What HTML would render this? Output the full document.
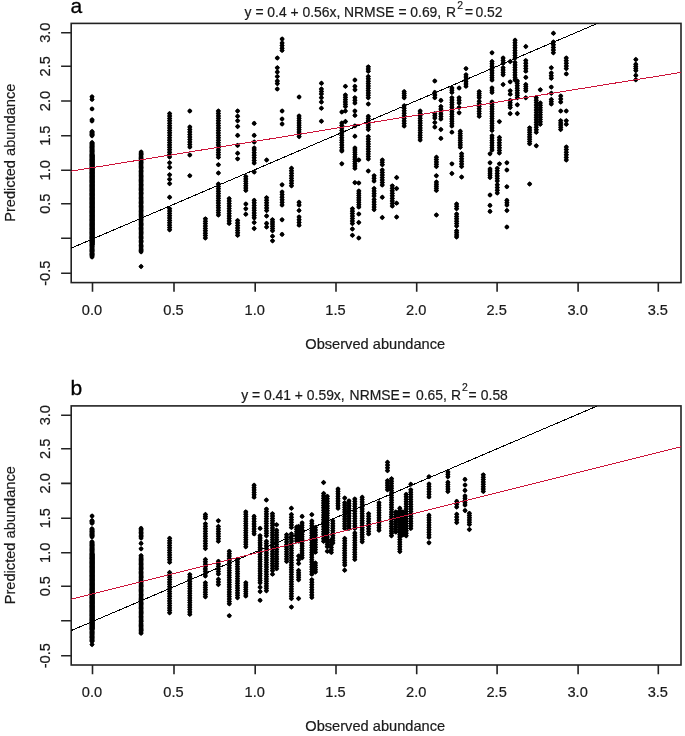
<!DOCTYPE html>
<html><head><meta charset="utf-8"><title>Figure</title>
<style>
html,body{margin:0;padding:0;background:#fff}
svg{display:block}
.t{font-family:"Liberation Sans",sans-serif;font-size:14.2px;fill:#1a1a1a;stroke:#1a1a1a;stroke-width:0.2px}
.h{font-family:"Liberation Sans",sans-serif;font-size:13.9px;fill:#1a1a1a;stroke:#1a1a1a;stroke-width:0.2px}
.p{font-family:"Liberation Sans",sans-serif;font-size:21px;fill:#000;stroke:#000;stroke-width:0.3px}
</style></head><body>
<svg width="685" height="736" viewBox="0 0 685 736">
<rect width="685" height="736" fill="#fff"/>
<rect x="71.2" y="23.4" width="609.8" height="259.2" fill="none" stroke="#222" stroke-width="1.6"/>
<path d="M61.1 273.2H71.2M61.1 238.3H71.2M61.1 203.7H71.2M61.1 170.3H71.2M61.1 135.7H71.2M61.1 101.0H71.2M61.1 66.3H71.2M61.1 32.7H71.2M92.5 282.6V291.8M174.0 282.6V291.8M255.2 282.6V291.8M336.0 282.6V291.8M416.7 282.6V291.8M497.1 282.6V291.8M578.1 282.6V291.8M658.3 282.6V291.8" stroke="#222" stroke-width="1.6" fill="none"/>
<clipPath id="ca"><rect x="71.2" y="23.4" width="609.8" height="259.2"/></clipPath>
<g clip-path="url(#ca)">
<path d="M133.5 3.4h0M135.4 5.2h0M142.1 11.9h0M149.8 19.6h0M150.6 20.5h0M158.1 27.9h0M159.1 28.9h0M160.1 29.9h0M161.1 30.9h0M165.9 35.7h0M166.8 36.6h0M167.7 37.5h0M168.6 38.4h0M169.5 39.4h0M170.5 40.3h0M171.4 41.2h0M172.3 42.1h0M173.2 43.0h0M174.1 44.0h0M175.1 44.9h0M176.0 45.8h0M176.9 46.7h0M177.8 47.6h0M178.7 48.6h0M179.7 49.5h0M180.6 50.4h0M181.5 51.3h0M182.4 52.2h0M183.3 53.2h0M184.3 54.1h0M185.2 55.0h0M186.1 55.9h0M187.0 56.8h0M187.9 57.8h0M188.9 58.7h0M189.8 59.6h0M190.7 60.5h0M191.6 61.4h0M192.5 62.4h0M193.5 63.3h0M194.4 64.2h0M195.3 65.1h0M196.2 66.0h0M197.1 67.0h0M198.1 67.9h0M199.0 68.8h0M199.9 69.7h0M200.8 70.6h0M201.7 71.6h0M202.7 72.5h0M203.6 73.4h0M204.5 74.3h0M205.4 75.2h0M206.3 76.2h0M207.3 77.1h0M208.2 78.0h0M209.1 78.9h0M210.0 79.8h0M210.9 80.8h0M211.9 81.7h0M212.8 82.6h0M213.7 83.5h0M214.6 84.4h0M215.5 85.4h0M216.5 86.3h0M217.4 87.2h0M218.3 88.1h0M219.2 89.0h0M220.1 90.0h0M221.1 90.9h0M222.0 91.8h0M222.9 92.7h0M223.8 93.6h0M224.7 94.6h0M225.7 95.5h0M226.6 96.4h0M227.5 97.3h0M228.4 98.2h0M229.3 99.2h0M230.3 100.1h0M231.2 101.0h0M232.1 101.9h0M233.0 102.8h0M233.9 103.8h0M234.9 104.7h0M235.8 105.6h0M236.7 106.5h0M237.6 107.4h0M238.5 108.4h0M239.5 109.3h0M240.4 110.2h0M241.3 111.1h0M242.2 112.0h0M243.1 113.0h0M244.1 113.9h0M245.0 114.8h0M245.9 115.7h0M246.8 116.6h0M207.3 7.7h0M208.2 8.6h0M209.1 9.5h0M210.0 10.5h0M210.9 11.4h0M211.8 12.3h0M212.8 13.2h0M213.7 14.1h0M214.6 15.0h0M215.5 16.0h0M216.4 16.9h0M217.3 17.8h0M218.3 18.7h0M219.2 19.6h0M220.1 20.5h0M221.0 21.5h0M221.9 22.4h0M222.8 23.3h0M223.7 24.2h0M224.7 25.1h0M225.6 26.0h0M226.5 27.0h0M227.4 27.9h0M228.3 28.8h0M229.2 29.7h0M230.2 30.6h0M231.1 31.5h0M232.0 32.5h0M232.9 33.4h0M233.8 34.3h0M234.7 35.2h0M235.7 36.1h0M236.6 37.0h0M237.5 38.0h0M238.4 38.9h0M239.3 39.8h0M240.2 40.7h0M241.2 41.6h0M242.1 42.5h0M243.0 43.5h0M243.9 44.4h0M244.8 45.3h0M245.7 46.2h0M246.7 47.1h0M247.6 48.0h0M248.5 48.9h0M249.4 49.9h0M250.3 50.8h0M251.2 51.7h0M252.2 52.6h0M253.1 53.5h0M254.0 54.4h0M254.9 55.4h0M255.8 56.3h0M256.7 57.2h0M257.7 58.1h0M258.6 59.0h0M259.5 59.9h0M260.4 60.9h0M261.3 61.8h0M262.2 62.7h0M263.2 63.6h0M264.1 64.5h0M265.0 65.4h0M265.9 66.4h0M266.8 67.3h0M267.7 68.2h0M268.7 69.1h0M269.6 70.0h0M270.5 70.9h0M271.4 71.9h0M272.3 72.8h0M273.2 73.7h0M274.2 74.6h0M275.1 75.5h0M276.0 76.4h0M276.9 77.4h0M277.8 78.3h0M288.2 88.7h0M200.3 -39.6h0M202.0 -37.9h0M203.7 -36.2h0M205.4 -34.5h0M207.1 -32.8h0M208.8 -31.1h0M210.5 -29.4h0M212.2 -27.7h0M213.9 -26.0h0M215.6 -24.3h0M217.3 -22.5h0M219.0 -20.8h0M220.7 -19.1h0M222.4 -17.4h0M224.1 -15.7h0M225.8 -14.0h0M227.5 -12.3h0M229.2 -10.6h0M230.9 -8.9h0M235.0 -4.8h0M238.3 -1.6h0M243.5 3.7h0M246.7 6.9h0M249.8 9.9h0M259.4 19.6h0M267.5 27.6h0M269.2 29.3h0M270.8 31.0h0M272.5 32.6h0M274.1 34.3h0M275.8 35.9h0M277.4 37.6h0M279.1 39.3h0M280.8 40.9h0M282.4 42.6h0M212.7 -55.7h0M224.0 -44.4h0M225.8 -42.6h0M227.5 -40.9h0M229.3 -39.1h0M231.1 -37.3h0M232.9 -35.6h0M234.6 -33.8h0M236.4 -32.0h0M238.2 -30.3h0M243.8 -24.6h0M258.4 -10.0h0M300.0 9.5h0M301.7 11.2h0M303.3 12.9h0M305.0 14.6h0M306.7 16.3h0M308.4 18.0h0M310.1 19.7h0M311.8 21.4h0M313.5 23.1h0M232.9 -75.9h0M234.6 -74.2h0M236.4 -72.5h0M238.1 -70.8h0M239.8 -69.1h0M241.5 -67.3h0M243.3 -65.6h0M245.0 -63.9h0M246.7 -62.2h0M248.4 -60.4h0M250.2 -58.7h0M251.9 -57.0h0M253.6 -55.3h0M255.3 -53.5h0M257.0 -51.8h0M258.8 -50.1h0M260.5 -48.4h0M262.2 -46.7h0M263.9 -44.9h0M265.7 -43.2h0M270.9 -38.0h0M276.8 -32.1h0M284.5 -24.3h0M286.2 -22.6h0M287.9 -21.0h0M289.6 -19.3h0M291.3 -17.6h0M293.0 -15.9h0M294.7 -14.2h0M296.3 -12.5h0M298.0 -10.8h0M299.7 -9.1h0M301.4 -7.5h0M303.1 -5.8h0M304.8 -4.1h0M306.5 -2.4h0M302.5 -21.6h0M304.3 -19.9h0M306.0 -18.1h0M307.8 -16.4h0M309.5 -14.6h0M311.3 -12.9h0M313.0 -11.1h0M314.8 -9.4h0M316.5 -7.6h0M318.3 -5.9h0M320.0 -4.1h0M246.5 -89.5h0M250.2 -85.8h0M253.4 -82.7h0M257.5 -78.6h0M263.8 -72.3h0M270.8 -65.2h0M276.4 -59.6h0M280.3 -55.7h0M324.0 -12.0h0M325.7 -10.3h0M327.5 -8.6h0M329.2 -6.8h0M330.9 -5.1h0M332.7 -3.4h0M334.4 -1.6h0M298.7 -48.9h0M300.3 -47.3h0M301.9 -45.7h0M303.6 -44.1h0M305.2 -42.4h0M306.8 -40.8h0M308.4 -39.2h0M318.1 -29.6h0M321.4 -26.2h0M325.3 -22.3h0M267.0 -92.5h0M275.5 -84.0h0M280.2 -79.3h0M284.4 -75.1h0M285.8 -73.7h0M287.7 -71.8h0M289.5 -70.0h0M291.3 -68.2h0M293.2 -66.3h0M295.0 -64.5h0M301.4 -58.1h0M321.5 -38.0h0M323.2 -36.3h0M325.0 -34.5h0M326.8 -32.7h0M328.5 -31.0h0M330.3 -29.2h0M332.1 -27.4h0M333.8 -25.7h0M337.1 -22.4h0M341.3 -18.2h0M301.7 -75.4h0M328.3 -48.7h0M330.1 -46.9h0M331.9 -45.1h0M333.7 -43.3h0M335.6 -41.5h0M337.4 -39.7h0M341.2 -35.8h0M346.5 -30.5h0M349.0 -28.0h0M348.0 -37.3h0M349.6 -35.8h0M351.1 -34.2h0M352.7 -32.7h0M354.3 -31.1h0M355.8 -29.6h0M359.7 -25.7h0M363.0 -22.4h0M237.1 -155.1h0M244.0 -148.2h0M247.0 -145.2h0M250.2 -142.0h0M253.4 -138.8h0M255.2 -137.0h0M259.0 -133.1h0M227.1 -171.9h0M229.9 -169.1h0M231.7 -167.2h0M233.6 -165.3h0M235.1 -163.8h0M278.0 -121.0h0M283.6 -115.3h0M287.2 -111.8h0M330.1 -68.8h0M335.2 -63.7h0M337.1 -61.9h0M338.9 -60.0h0M340.8 -58.2h0M342.6 -56.4h0M344.4 -54.5h0M354.8 -44.1h0M365.2 -33.7h0M325.1 -87.1h0M326.9 -85.3h0M328.7 -83.6h0M330.4 -81.8h0M332.2 -80.0h0M334.0 -78.3h0M335.7 -76.5h0M337.5 -74.7h0M280.1 -142.9h0M293.5 -129.5h0M295.1 -127.9h0M296.8 -126.2h0M298.4 -124.6h0M300.0 -123.0h0M301.6 -121.4h0M303.2 -119.8h0M304.8 -118.1h0M306.5 -116.5h0M308.1 -114.9h0M354.5 -68.4h0M356.5 -66.5h0M360.3 -62.6h0M364.9 -58.1h0M366.9 -56.1h0M368.8 -54.2h0M370.7 -52.3h0M286.2 -168.4h0M290.2 -164.3h0M292.0 -162.6h0M293.7 -160.8h0M296.3 -158.2h0M299.4 -155.1h0M303.8 -150.7h0M313.0 -141.6h0M320.9 -162.5h0M328.7 -154.7h0M330.4 -153.0h0M332.1 -151.2h0M333.9 -149.5h0M335.6 -147.8h0M337.3 -146.0h0M339.1 -144.3h0M340.8 -142.6h0M342.5 -140.8h0M344.3 -139.1h0M346.0 -137.4h0M347.8 -135.6h0M348.5 -134.9h0M357.5 -125.9h0M305.3 -183.2h0M311.4 -177.1h0M313.1 -175.4h0M314.7 -173.8h0M316.3 -172.1h0M318.0 -170.5h0M319.6 -168.9h0M322.7 -165.7h0M330.2 -158.3h0M396.8 -101.6h0M398.5 -99.9h0M400.2 -98.1h0M402.0 -96.4h0M403.7 -94.7h0M405.4 -92.9h0M407.2 -91.2h0M411.1 -87.3h0M415.6 -82.8h0M307.5 -194.4h0M312.0 -189.9h0M314.5 -187.5h0M320.0 -181.9h0M321.9 -180.0h0M323.8 -178.1h0M329.4 -172.5h0M332.6 -169.4h0M340.0 -161.9h0M347.3 -154.6h0M355.6 -146.3h0M357.0 -144.9h0M358.6 -143.3h0M360.3 -141.7h0M361.9 -140.0h0M363.5 -138.4h0M365.1 -136.8h0M366.7 -135.2h0M368.3 -133.6h0M370.0 -131.9h0M380.1 -121.8h0M366.8 -140.6h0M383.1 -124.3h0M388.8 -118.7h0M390.4 -117.0h0M392.0 -115.4h0M393.6 -113.8h0M395.2 -112.2h0M396.8 -110.6h0M398.5 -109.0h0M400.1 -107.3h0M405.0 -102.4h0M411.0 -96.4h0M422.0 -85.4h0M307.7 -213.2h0M309.2 -211.6h0M310.8 -210.1h0M314.5 -206.3h0M316.2 -204.7h0M317.9 -203.0h0M319.5 -201.3h0M321.2 -199.7h0M322.8 -198.0h0M324.5 -196.3h0M326.2 -194.7h0M327.8 -193.0h0M329.5 -191.3h0M334.0 -186.9h0M342.7 -178.2h0M344.2 -176.6h0M345.8 -175.1h0M347.3 -173.5h0M348.9 -172.0h0M350.4 -170.4h0M352.0 -168.9h0M357.0 -163.8h0M358.8 -162.1h0M360.5 -160.3h0M362.3 -158.6h0M364.1 -156.8h0M365.8 -155.0h0M367.6 -153.3h0M369.3 -151.5h0M371.1 -149.8h0M372.9 -148.0h0M381.3 -139.5h0M388.8 -140.3h0M390.6 -138.4h0M392.5 -136.5h0M397.8 -131.2h0M399.6 -129.5h0M401.4 -127.7h0M403.1 -125.9h0M405.6 -123.5h0M407.4 -121.7h0M409.2 -119.9h0M411.0 -118.1h0M412.7 -116.3h0M383.5 -157.2h0M385.1 -155.5h0M386.8 -153.9h0M390.5 -150.1h0M392.3 -148.4h0M394.1 -146.6h0M395.8 -144.8h0M397.6 -143.0h0M399.4 -141.3h0M401.1 -139.5h0M409.8 -130.8h0M424.1 -116.5h0M408.8 -146.0h0M410.6 -144.2h0M412.3 -142.4h0M414.1 -140.7h0M415.9 -138.9h0M417.7 -137.1h0M419.5 -135.3h0M421.3 -133.5h0M423.1 -131.7h0M406.0 -154.9h0M413.7 -147.1h0M424.1 -136.8h0M433.9 -127.0h0M350.6 -221.0h0M352.0 -219.6h0M353.5 -218.2h0M354.9 -216.7h0M360.6 -211.1h0M362.3 -209.3h0M364.1 -207.5h0M365.9 -205.7h0M367.7 -203.9h0M369.5 -202.1h0M371.3 -200.3h0M373.1 -198.5h0M374.9 -196.7h0M375.6 -218.6h0M377.3 -216.9h0M379.0 -215.2h0M380.7 -213.5h0M382.5 -211.8h0M384.2 -210.1h0M385.9 -208.4h0M387.6 -206.7h0M389.3 -205.0h0M391.0 -203.3h0M392.7 -201.5h0M394.4 -199.8h0M396.1 -198.1h0M364.7 -250.2h0M372.8 -242.1h0M374.7 -240.2h0M376.5 -238.4h0M387.8 -227.1h0M389.3 -225.6h0M390.9 -224.0h0M394.1 -220.8h0M397.3 -217.6h0M419.8 -197.4h0M421.4 -195.7h0M423.1 -194.1h0M424.7 -192.5h0M426.3 -190.8h0M432.8 -184.3h0M437.3 -179.9h0M438.8 -178.4h0M440.2 -176.9h0M441.7 -175.4h0M443.2 -173.9h0M460.6 -156.6h0M382.8 -240.8h0M387.1 -236.4h0M388.9 -234.6h0M390.6 -232.9h0M392.4 -231.1h0M394.2 -229.4h0M395.9 -227.6h0M403.3 -220.2h0M409.6 -213.9h0M381.8 -257.3h0M383.3 -255.8h0M384.9 -254.2h0M388.6 -250.5h0M390.3 -248.8h0M392.0 -247.1h0M393.6 -245.5h0M395.3 -243.8h0M397.0 -242.1h0M398.6 -240.5h0M400.3 -238.8h0M402.0 -237.1h0M403.6 -235.4h0M405.3 -233.8h0M407.0 -232.1h0M408.6 -230.4h0M413.0 -226.1h0M435.4 -203.7h0M442.2 -196.9h0M467.1 -178.6h0M468.8 -177.0h0M470.4 -175.3h0M474.2 -171.5h0M475.9 -169.8h0M477.6 -168.1h0M479.3 -166.5h0M481.0 -164.8h0M482.7 -163.1h0M486.0 -159.7h0M487.5 -158.3h0M489.0 -156.8h0M490.4 -155.3h0M386.9 -262.4h0M393.7 -255.5h0M395.6 -253.7h0M397.5 -251.8h0M400.6 -248.6h0M404.4 -244.9h0M418.3 -232.6h0M419.9 -231.0h0M421.5 -229.4h0M423.1 -227.8h0M424.7 -226.2h0M426.4 -224.6h0M428.0 -223.0h0M429.6 -221.4h0M435.1 -217.7h0M436.9 -215.9h0M438.7 -214.1h0M440.5 -212.3h0M442.3 -210.5h0M444.1 -208.7h0M451.6 -201.2h0M378.0 -281.0h0M382.4 -276.6h0M384.0 -275.0h0M385.7 -273.4h0M387.3 -271.7h0M388.9 -270.1h0M390.5 -268.5h0M403.6 -274.1h0M405.1 -272.6h0M406.5 -271.2h0M407.9 -269.8h0M410.5 -267.2h0M412.2 -265.4h0M414.0 -263.7h0M415.8 -261.9h0M417.5 -260.1h0M419.3 -258.4h0M421.1 -256.6h0M455.2 -237.8h0M461.6 -231.4h0M466.0 -227.0h0M467.5 -225.5h0M469.0 -224.0h0M470.5 -222.5h0M472.0 -221.0h0M484.4 -208.6h0M491.7 -201.2h0M496.0 -197.0h0M385.2 -310.6h0M391.4 -304.4h0M393.0 -302.8h0M394.7 -301.1h0M396.3 -299.5h0M397.9 -297.9h0M399.6 -296.2h0M401.2 -294.6h0M402.8 -293.0h0M404.5 -291.3h0M410.1 -285.7h0M411.7 -284.1h0M413.2 -282.6h0M420.0 -275.8h0M421.7 -274.1h0M423.4 -272.4h0M425.0 -270.8h0M426.7 -269.1h0M428.4 -267.4h0M430.1 -265.7h0M431.7 -264.1h0M433.4 -262.4h0M435.1 -260.7h0M436.8 -259.0h0M438.4 -257.4h0M440.1 -255.7h0M443.9 -251.9h0M445.5 -250.3h0M447.2 -248.6h0M448.9 -246.9h0M450.6 -245.2h0M452.3 -243.5h0M454.0 -241.8h0M470.7 -232.6h0M472.4 -230.8h0M474.2 -229.0h0M476.0 -227.2h0M477.8 -225.5h0M479.6 -223.7h0M482.3 -221.0h0M484.3 -219.0h0M486.2 -217.1h0M488.1 -215.2h0M439.1 -267.1h0M450.4 -255.9h0M452.2 -254.1h0M454.0 -252.2h0M455.8 -250.4h0M457.7 -248.6h0M459.5 -246.8h0M461.3 -244.9h0M469.0 -237.3h0M396.8 -314.7h0M398.6 -312.9h0M400.5 -311.0h0M403.6 -307.9h0M405.3 -306.2h0M407.0 -304.5h0M408.6 -302.9h0M415.5 -296.0h0M473.5 -243.3h0M478.6 -238.2h0M490.4 -226.4h0M500.1 -216.7h0M501.8 -215.1h0M503.4 -213.5h0M507.3 -209.6h0M518.9 -197.9h0M404.3 -317.3h0M418.6 -302.9h0M424.9 -296.6h0M427.4 -294.2h0M431.8 -289.8h0M433.4 -288.1h0M435.1 -286.4h0M436.8 -284.8h0M441.1 -280.4h0M392.7 -335.7h0M394.4 -333.9h0M396.2 -332.1h0M398.0 -330.3h0M399.8 -328.5h0M401.6 -326.7h0M403.4 -324.9h0M405.2 -323.1h0M408.3 -320.0h0M410.1 -318.3h0M411.8 -316.5h0M413.6 -314.7h0M415.4 -312.9h0M417.2 -311.1h0M419.0 -309.4h0M420.7 -307.6h0M423.1 -308.5h0M424.7 -306.8h0M426.4 -305.1h0M428.1 -303.4h0M429.8 -301.8h0M431.5 -300.1h0M433.2 -298.4h0M434.9 -296.7h0M439.9 -291.7h0M446.1 -285.5h0M404.7 -338.9h0M414.6 -328.9h0M416.5 -327.1h0M418.4 -325.2h0M420.3 -323.3h0M422.1 -321.5h0M426.5 -317.1h0M431.5 -312.0h0M433.0 -310.6h0M434.5 -309.1h0M435.9 -307.7h0M440.9 -302.7h0M464.9 -284.1h0M466.5 -282.5h0M468.1 -280.9h0M469.7 -279.3h0M471.3 -277.7h0M472.9 -276.1h0M474.5 -274.5h0M476.1 -272.9h0M504.6 -244.4h0M448.3 -310.1h0M450.0 -308.4h0M451.8 -306.7h0M453.5 -304.9h0M455.3 -303.2h0M457.0 -301.4h0M458.8 -299.7h0M460.5 -297.9h0M462.2 -296.2h0M464.0 -294.5h0M465.7 -292.7h0M467.5 -291.0h0M469.2 -289.2h0M471.0 -287.5h0M472.7 -285.7h0M482.3 -276.1h0M445.5 -318.6h0M454.9 -309.2h0M456.5 -307.6h0M458.2 -305.9h0M459.9 -304.2h0M461.5 -302.6h0M463.2 -300.9h0M464.9 -299.2h0M466.5 -297.6h0M468.2 -295.9h0M469.9 -294.2h0M437.7 -342.0h0M441.4 -338.2h0M443.3 -336.3h0M445.2 -334.5h0M451.4 -328.2h0M455.8 -323.9h0M460.2 -319.5h0M461.8 -317.9h0M463.4 -316.3h0M414.9 -367.8h0M421.0 -361.6h0M422.9 -359.7h0M424.8 -357.8h0M426.7 -355.9h0M428.6 -354.0h0M464.4 -328.6h0M466.5 -326.5h0M468.6 -324.3h0M475.0 -318.0h0M481.8 -311.1h0M483.4 -309.6h0M484.9 -308.0h0M486.5 -306.5h0M488.0 -304.9h0M441.4 -359.4h0M443.3 -357.5h0M445.2 -355.7h0M447.1 -353.8h0M448.9 -351.9h0M452.7 -348.2h0M478.9 -321.9h0M485.8 -315.1h0M488.3 -312.6h0M504.4 -296.5h0M506.2 -294.7h0M508.1 -292.8h0M509.9 -291.0h0M511.7 -289.1h0M513.6 -287.3h0M491.7 -407.5h0M495.0 -404.1h0M496.5 -402.6h0M498.0 -401.1h0M499.5 -399.7h0M502.9 -396.3h0M506.0 -393.2h0" stroke="#000" stroke-width="3.8" stroke-linecap="square" fill="none" transform="rotate(45)"/>
<path d="M92.0 96.8h0M92.0 99.4h0M92.0 108.9h0M92.0 119.8h0M92.0 121.0h0M92.0 131.5h0M92.0 132.9h0M92.0 134.4h0M92.0 135.8h0M92.0 142.5h0M92.0 143.8h0M92.0 145.1h0M92.0 146.4h0M92.0 147.7h0M92.0 149.0h0M92.0 150.3h0M92.0 151.6h0M92.0 152.9h0M92.0 154.2h0M92.0 155.5h0M92.0 156.8h0M92.0 158.1h0M92.0 159.4h0M92.0 160.7h0M92.0 162.0h0M92.0 163.3h0M92.0 164.6h0M92.0 165.9h0M92.0 167.2h0M92.0 168.5h0M92.0 169.8h0M92.0 171.1h0M92.0 172.4h0M92.0 173.7h0M92.0 175.0h0M92.0 176.3h0M92.0 177.6h0M92.0 178.9h0M92.0 180.2h0M92.0 181.5h0M92.0 182.8h0M92.0 184.1h0M92.0 185.4h0M92.0 186.7h0M92.0 188.0h0M92.0 189.3h0M92.0 190.6h0M92.0 191.9h0M92.0 193.2h0M92.0 194.5h0M92.0 195.8h0M92.0 197.1h0M92.0 198.4h0M92.0 199.8h0M92.0 201.1h0M92.0 202.4h0M92.0 203.7h0M92.0 205.0h0M92.0 206.3h0M92.0 207.6h0M92.0 208.9h0M92.0 210.2h0M92.0 211.5h0M92.0 212.8h0M92.0 214.1h0M92.0 215.4h0M92.0 216.7h0M92.0 218.0h0M92.0 219.3h0M92.0 220.6h0M92.0 221.9h0M92.0 223.2h0M92.0 224.5h0M92.0 225.8h0M92.0 227.1h0M92.0 228.4h0M92.0 229.7h0M92.0 231.0h0M92.0 232.3h0M92.0 233.6h0M92.0 234.9h0M92.0 236.2h0M92.0 237.5h0M92.0 238.8h0M92.0 240.1h0M92.0 241.4h0M92.0 242.7h0M92.0 244.0h0M92.0 245.3h0M92.0 246.6h0M92.0 247.9h0M92.0 249.2h0M92.0 250.5h0M92.0 251.8h0M92.0 253.1h0M92.0 254.4h0M92.0 255.7h0M92.0 257.0h0M141.1 152.0h0M141.1 153.3h0M141.1 154.6h0M141.1 155.9h0M141.1 157.2h0M141.1 158.5h0M141.1 159.8h0M141.1 161.1h0M141.1 162.4h0M141.1 163.7h0M141.1 165.0h0M141.1 166.3h0M141.1 167.6h0M141.1 168.8h0M141.1 170.1h0M141.1 171.4h0M141.1 172.7h0M141.1 174.0h0M141.1 175.3h0M141.1 176.6h0M141.1 177.9h0M141.1 179.2h0M141.1 180.5h0M141.1 181.8h0M141.1 183.1h0M141.1 184.4h0M141.1 185.7h0M141.1 187.0h0M141.1 188.3h0M141.1 189.6h0M141.1 190.9h0M141.1 192.2h0M141.1 193.5h0M141.1 194.8h0M141.1 196.1h0M141.1 197.4h0M141.1 198.7h0M141.1 200.0h0M141.1 201.3h0M141.1 202.5h0M141.1 203.8h0M141.1 205.1h0M141.1 206.4h0M141.1 207.7h0M141.1 209.0h0M141.1 210.3h0M141.1 211.6h0M141.1 212.9h0M141.1 214.2h0M141.1 215.5h0M141.1 216.8h0M141.1 218.1h0M141.1 219.4h0M141.1 220.7h0M141.1 222.0h0M141.1 223.3h0M141.1 224.6h0M141.1 225.9h0M141.1 227.2h0M141.1 228.5h0M141.1 229.8h0M141.1 231.1h0M141.1 232.4h0M141.1 233.7h0M141.1 235.0h0M141.1 236.2h0M141.1 237.5h0M141.1 238.8h0M141.1 240.1h0M141.1 241.4h0M141.1 242.7h0M141.1 244.0h0M141.1 245.3h0M141.1 246.6h0M141.1 247.9h0M141.1 249.2h0M141.1 250.5h0M141.1 251.8h0M141.1 266.5h0M169.6 113.6h0M169.6 116.0h0M169.6 118.4h0M169.6 120.8h0M169.6 123.2h0M169.6 125.7h0M169.6 128.1h0M169.6 130.5h0M169.6 132.9h0M169.6 135.3h0M169.6 137.7h0M169.6 140.1h0M169.6 142.5h0M169.6 144.9h0M169.6 147.4h0M169.6 149.8h0M169.6 152.2h0M169.6 154.6h0M169.6 157.0h0M169.6 162.8h0M169.6 167.4h0M169.6 174.8h0M169.6 179.3h0M169.6 183.6h0M169.6 197.3h0M169.6 208.7h0M169.6 211.0h0M169.6 213.4h0M169.6 215.7h0M169.6 218.1h0M169.6 220.4h0M169.6 222.8h0M169.6 225.1h0M169.6 227.5h0M169.6 229.8h0M189.8 111.0h0M189.8 127.0h0M189.8 129.5h0M189.8 132.0h0M189.8 134.5h0M189.8 137.0h0M189.8 139.5h0M189.8 142.0h0M189.8 144.5h0M189.8 147.0h0M189.8 155.0h0M189.8 175.7h0M205.4 218.8h0M205.4 221.2h0M205.4 223.6h0M205.4 226.0h0M205.4 228.4h0M205.4 230.8h0M205.4 233.2h0M205.4 235.6h0M205.4 238.0h0M218.4 111.0h0M218.4 113.4h0M218.4 115.9h0M218.4 118.3h0M218.4 120.7h0M218.4 123.2h0M218.4 125.6h0M218.4 128.1h0M218.4 130.5h0M218.4 132.9h0M218.4 135.4h0M218.4 137.8h0M218.4 140.2h0M218.4 142.7h0M218.4 145.1h0M218.4 147.6h0M218.4 150.0h0M218.4 152.4h0M218.4 154.9h0M218.4 157.3h0M218.4 164.7h0M218.4 173.0h0M218.4 184.0h0M218.4 186.4h0M218.4 188.8h0M218.4 191.2h0M218.4 193.5h0M218.4 195.9h0M218.4 198.3h0M218.4 200.7h0M218.4 203.1h0M218.4 205.5h0M218.4 207.8h0M218.4 210.2h0M218.4 212.6h0M218.4 215.0h0M229.2 198.6h0M229.2 201.1h0M229.2 203.6h0M229.2 206.0h0M229.2 208.5h0M229.2 211.0h0M229.2 213.5h0M229.2 216.0h0M229.2 218.4h0M229.2 220.9h0M229.2 223.4h0M237.6 111.0h0M237.6 116.3h0M237.6 120.7h0M237.6 126.5h0M237.6 135.4h0M237.6 145.4h0M237.6 153.3h0M237.6 158.8h0M237.6 220.6h0M237.6 223.1h0M237.6 225.5h0M237.6 227.9h0M237.6 230.4h0M237.6 232.9h0M237.6 235.3h0M245.8 176.6h0M245.8 178.9h0M245.8 181.2h0M245.8 183.5h0M245.8 185.8h0M245.8 188.1h0M245.8 190.4h0M245.8 204.0h0M245.8 208.7h0M245.8 214.2h0M254.2 123.4h0M254.2 135.4h0M254.2 142.0h0M254.2 148.0h0M254.2 150.0h0M254.2 152.6h0M254.2 155.2h0M254.2 157.8h0M254.2 160.4h0M254.2 163.0h0M254.2 172.0h0M254.2 200.4h0M254.2 202.9h0M254.2 205.4h0M254.2 207.9h0M254.2 210.4h0M254.2 212.9h0M254.2 215.4h0M254.2 217.9h0M254.2 222.5h0M254.2 228.5h0M266.6 160.0h0M266.6 197.7h0M266.6 200.3h0M266.6 202.8h0M266.6 205.4h0M266.6 207.9h0M266.6 210.5h0M266.6 216.0h0M266.6 223.4h0M266.6 227.0h0M272.5 219.7h0M272.5 221.9h0M272.5 224.1h0M272.5 226.3h0M272.5 228.5h0M272.5 230.7h0M272.5 236.2h0M272.5 240.8h0M277.3 58.0h0M277.3 67.7h0M277.3 72.0h0M277.3 76.5h0M277.3 81.0h0M277.3 83.6h0M277.3 89.0h0M282.1 39.0h0M282.1 43.0h0M282.1 45.6h0M282.1 48.3h0M282.1 50.4h0M282.1 111.0h0M282.1 119.0h0M282.1 124.0h0M282.1 184.8h0M282.1 192.0h0M282.1 194.6h0M282.1 197.2h0M282.1 199.8h0M282.1 202.4h0M282.1 205.0h0M282.1 219.7h0M282.1 234.4h0M291.5 168.3h0M291.5 170.8h0M291.5 173.3h0M291.5 175.8h0M291.5 178.3h0M291.5 180.8h0M291.5 183.3h0M291.5 185.8h0M299.1 97.0h0M299.1 116.0h0M299.1 118.3h0M299.1 120.6h0M299.1 122.9h0M299.1 125.2h0M299.1 127.4h0M299.1 129.7h0M299.1 132.0h0M299.1 134.3h0M299.1 136.6h0M299.1 202.3h0M299.1 205.0h0M299.1 210.5h0M299.1 217.0h0M299.1 219.7h0M299.1 222.5h0M299.1 225.2h0M321.4 83.3h0M321.4 89.0h0M321.4 91.5h0M321.4 94.0h0M321.4 97.7h0M321.4 102.0h0M321.4 108.3h0M321.4 121.2h0M341.8 112.0h0M341.8 123.0h0M341.8 125.5h0M341.8 127.9h0M341.8 130.4h0M341.8 132.8h0M341.8 135.3h0M341.8 137.7h0M341.8 140.2h0M341.8 142.6h0M341.8 145.1h0M341.8 147.5h0M341.8 150.0h0M341.8 151.0h0M341.8 163.8h0M345.4 86.3h0M345.4 95.0h0M345.4 97.3h0M345.4 99.6h0M345.4 102.0h0M345.4 104.3h0M345.4 106.6h0M345.4 111.0h0M345.4 121.6h0M352.4 208.7h0M352.4 211.1h0M352.4 213.6h0M352.4 216.1h0M352.4 218.5h0M352.4 220.9h0M352.4 223.4h0M352.4 229.0h0M352.4 235.3h0M354.9 80.0h0M354.9 86.3h0M354.9 89.8h0M354.9 97.7h0M354.9 100.3h0M354.9 103.0h0M354.9 111.0h0M354.9 115.4h0M354.9 126.0h0M354.9 136.3h0M354.9 148.0h0M354.9 150.0h0M354.9 152.3h0M354.9 154.6h0M354.9 156.9h0M354.9 159.2h0M354.9 161.4h0M354.9 163.7h0M354.9 166.0h0M354.9 168.3h0M354.9 182.6h0M358.8 160.0h0M358.8 183.0h0M358.8 191.0h0M358.8 193.3h0M358.8 195.6h0M358.8 197.9h0M358.8 200.1h0M358.8 202.4h0M358.8 204.7h0M358.8 207.0h0M358.8 214.0h0M358.8 222.5h0M358.8 238.0h0M368.3 66.8h0M368.3 69.0h0M368.3 71.2h0M368.3 76.5h0M368.3 78.9h0M368.3 81.2h0M368.3 83.6h0M368.3 85.9h0M368.3 88.3h0M368.3 90.6h0M368.3 93.0h0M368.3 95.3h0M368.3 97.7h0M368.3 104.0h0M368.3 116.3h0M368.3 118.5h0M368.3 120.7h0M368.3 122.9h0M368.3 125.1h0M368.3 127.3h0M368.3 129.5h0M368.3 136.6h0M368.3 139.1h0M368.3 141.6h0M368.3 144.1h0M368.3 146.6h0M368.3 149.0h0M368.3 151.5h0M368.3 154.0h0M368.3 156.5h0M368.3 159.0h0M368.3 171.0h0M374.1 175.7h0M374.1 178.3h0M374.1 181.0h0M374.1 188.5h0M374.1 191.0h0M374.1 193.5h0M374.1 196.0h0M374.1 199.5h0M374.1 202.0h0M374.1 204.6h0M374.1 207.1h0M374.1 209.6h0M382.3 160.0h0M382.3 162.3h0M382.3 164.7h0M382.3 170.0h0M382.3 172.5h0M382.3 175.0h0M382.3 177.5h0M382.3 180.0h0M382.3 182.5h0M382.3 185.0h0M382.3 197.3h0M382.3 217.5h0M392.3 185.8h0M392.3 188.3h0M392.3 190.9h0M392.3 193.4h0M392.3 195.9h0M392.3 198.4h0M392.3 200.9h0M392.3 203.5h0M392.3 206.0h0M396.6 177.5h0M396.6 188.5h0M396.6 203.2h0M396.6 217.0h0M404.2 91.6h0M404.2 93.6h0M404.2 95.7h0M404.2 97.7h0M404.2 105.7h0M404.2 108.2h0M404.2 110.8h0M404.2 113.3h0M404.2 115.8h0M404.2 118.4h0M404.2 120.9h0M404.2 123.5h0M404.2 126.0h0M420.2 111.0h0M420.2 113.4h0M420.2 115.8h0M420.2 118.2h0M420.2 120.7h0M420.2 123.1h0M420.2 125.5h0M420.2 127.9h0M420.2 130.3h0M420.2 132.8h0M420.2 135.2h0M420.2 137.6h0M420.2 140.0h0M434.8 81.0h0M434.8 92.4h0M434.8 95.1h0M434.8 97.7h0M434.8 113.6h0M434.8 115.8h0M434.8 118.0h0M434.8 122.5h0M434.8 127.0h0M436.4 157.3h0M436.4 159.6h0M436.4 161.9h0M436.4 164.2h0M436.4 166.5h0M436.4 175.7h0M436.4 182.0h0M436.4 184.1h0M436.4 186.2h0M436.4 188.3h0M436.4 190.4h0M436.4 215.0h0M440.9 100.4h0M440.9 106.6h0M440.9 109.1h0M440.9 111.6h0M440.9 114.0h0M440.9 116.5h0M440.9 119.0h0M440.9 129.5h0M440.9 138.4h0M451.9 88.0h0M451.9 90.2h0M451.9 92.4h0M451.9 97.7h0M451.9 100.1h0M451.9 102.4h0M451.9 104.8h0M451.9 107.1h0M451.9 109.5h0M451.9 111.8h0M451.9 114.2h0M451.9 116.6h0M451.9 118.9h0M451.9 121.3h0M451.9 123.6h0M451.9 126.0h0M451.9 132.2h0M451.9 163.8h0M451.9 173.5h0M456.6 204.0h0M456.6 206.3h0M456.6 208.7h0M456.6 214.0h0M456.6 216.4h0M456.6 218.8h0M456.6 221.2h0M456.6 223.6h0M456.6 226.0h0M456.6 230.7h0M456.6 232.8h0M456.6 234.9h0M456.6 237.0h0M459.1 88.0h0M459.1 97.7h0M459.1 100.3h0M459.1 103.0h0M459.1 107.5h0M459.1 112.8h0M460.3 131.3h0M460.3 133.6h0M460.3 135.8h0M460.3 138.1h0M460.3 140.4h0M460.3 142.7h0M460.3 144.9h0M460.3 147.2h0M461.6 153.7h0M461.6 156.3h0M461.6 158.8h0M461.6 161.4h0M461.6 163.9h0M461.6 166.5h0M461.6 177.0h0M466.0 68.6h0M466.0 74.8h0M466.0 77.1h0M466.0 79.4h0M466.0 81.7h0M466.0 84.0h0M466.0 86.3h0M479.2 91.6h0M479.2 93.6h0M479.2 95.7h0M479.2 97.7h0M479.2 101.3h0M479.2 103.8h0M479.2 106.3h0M479.2 108.8h0M479.2 111.3h0M479.2 113.8h0M479.2 116.3h0M490.0 153.7h0M490.0 162.8h0M490.0 169.0h0M490.0 171.1h0M490.0 173.2h0M490.0 175.4h0M490.0 177.5h0M490.0 195.0h0M490.0 205.4h0M490.0 211.4h0M492.0 52.7h0M492.0 61.5h0M492.0 63.8h0M492.0 66.1h0M492.0 68.4h0M492.0 70.8h0M492.0 73.1h0M492.0 75.4h0M492.0 77.7h0M492.0 80.0h0M492.0 88.0h0M492.0 90.2h0M492.0 92.4h0M492.0 102.0h0M492.0 104.4h0M492.0 106.7h0M492.0 109.1h0M492.0 111.5h0M492.0 113.8h0M492.0 116.2h0M492.0 118.6h0M492.0 120.9h0M492.0 123.3h0M492.0 125.7h0M492.0 128.0h0M492.0 130.4h0M492.0 135.7h0M492.0 138.1h0M492.0 140.5h0M492.0 142.8h0M492.0 145.2h0M492.0 147.6h0M492.0 150.0h0M497.3 168.3h0M497.3 170.8h0M497.3 173.4h0M497.3 175.9h0M497.3 178.5h0M497.3 181.0h0M497.3 184.8h0M497.3 187.5h0M497.3 190.3h0M497.3 193.0h0M499.4 121.6h0M499.4 137.5h0M499.4 140.1h0M499.4 142.7h0M499.4 145.2h0M499.4 147.8h0M499.4 150.4h0M499.4 153.0h0M499.4 163.8h0M503.1 58.0h0M503.1 60.6h0M503.1 63.3h0M503.1 67.7h0M503.1 70.1h0M503.1 72.4h0M503.1 74.8h0M503.1 84.5h0M506.9 162.8h0M506.9 170.0h0M506.9 186.7h0M506.9 200.4h0M506.9 202.7h0M506.9 205.0h0M506.9 210.5h0M506.9 227.0h0M510.2 61.5h0M510.2 81.8h0M510.2 90.7h0M510.2 94.2h0M510.2 100.4h0M510.2 102.8h0M510.2 105.1h0M510.2 107.5h0M510.2 113.6h0M515.0 40.3h0M515.0 42.8h0M515.0 45.4h0M515.0 47.9h0M515.0 50.4h0M515.0 52.9h0M515.0 55.5h0M515.0 58.0h0M515.0 62.4h0M515.0 64.9h0M515.0 67.4h0M515.0 69.9h0M515.0 72.5h0M515.0 75.0h0M515.0 77.5h0M515.0 80.0h0M517.3 81.0h0M517.3 83.4h0M517.3 85.8h0M517.3 88.2h0M517.3 90.5h0M517.3 92.9h0M517.3 95.3h0M517.3 97.7h0M517.3 104.8h0M517.3 113.6h0M525.8 46.5h0M525.8 60.6h0M525.8 63.2h0M525.8 65.9h0M525.8 68.5h0M525.8 71.2h0M525.8 77.4h0M525.8 84.5h0M525.8 86.6h0M525.8 88.6h0M525.8 90.7h0M525.8 97.7h0M529.6 127.8h0M529.6 130.1h0M529.6 132.3h0M529.6 134.6h0M529.6 136.9h0M529.6 139.2h0M529.6 141.4h0M529.6 143.7h0M529.6 184.0h0M536.3 97.7h0M536.3 100.2h0M536.3 102.6h0M536.3 105.1h0M536.3 107.6h0M536.3 110.0h0M536.3 112.5h0M536.3 114.9h0M536.3 117.4h0M536.3 119.9h0M536.3 122.3h0M536.3 124.8h0M536.3 127.3h0M536.3 129.7h0M536.3 132.2h0M536.3 145.8h0M540.3 89.8h0M540.3 103.0h0M540.3 105.4h0M540.3 107.7h0M540.3 110.1h0M540.3 112.4h0M540.3 114.8h0M540.3 117.1h0M540.3 119.5h0M540.3 121.8h0M540.3 124.2h0M551.3 67.7h0M551.3 73.0h0M551.3 75.7h0M551.3 78.3h0M551.3 87.1h0M551.3 93.3h0M551.3 99.5h0M551.3 101.8h0M551.3 104.0h0M553.4 33.3h0M553.4 42.0h0M553.4 44.7h0M553.4 47.4h0M553.4 50.0h0M553.4 52.7h0M560.7 96.0h0M560.7 99.0h0M560.7 102.0h0M560.7 111.0h0M560.7 120.7h0M560.7 122.9h0M560.7 125.1h0M560.7 127.3h0M560.7 129.5h0M566.3 58.0h0M566.3 60.6h0M566.3 63.3h0M566.3 65.9h0M566.3 68.6h0M566.3 73.9h0M566.3 111.0h0M566.3 120.7h0M566.3 124.2h0M566.3 147.0h0M566.3 149.6h0M566.3 152.2h0M566.3 154.8h0M566.3 157.4h0M566.3 160.0h0M635.8 59.5h0M635.8 64.3h0M635.8 66.4h0M635.8 68.5h0M635.8 70.6h0M635.8 75.4h0M635.8 79.8h0" stroke="#000" stroke-width="4.1" stroke-linecap="round" fill="none"/>
<line x1="92.05" y1="131.5" x2="92.05" y2="135.8" stroke="#000" stroke-width="4.7"/>
<line x1="92.05" y1="142.5" x2="92.05" y2="257.0" stroke="#000" stroke-width="4.7"/>
<line x1="92.3" y1="154.5" x2="92.3" y2="245.0" stroke="#000" stroke-width="5.0"/>
<line x1="60.0" y1="252.88" x2="620.0" y2="13.79" stroke="#000" stroke-width="1" shape-rendering="crispEdges"/>
<line x1="71.2" y1="171.1" x2="681.0" y2="72.4" stroke="#cc1238" stroke-width="1" shape-rendering="crispEdges"/>
</g>
<text class="t" transform="translate(50.0 273.2) rotate(-90) scale(1.030 1)" text-anchor="middle">-0.5</text>
<text class="t" transform="translate(50.0 203.7) rotate(-90) scale(1.030 1)" text-anchor="middle">0.5</text>
<text class="t" transform="translate(50.0 170.3) rotate(-90) scale(1.030 1)" text-anchor="middle">1.0</text>
<text class="t" transform="translate(50.0 135.7) rotate(-90) scale(1.030 1)" text-anchor="middle">1.5</text>
<text class="t" transform="translate(50.0 101.0) rotate(-90) scale(1.030 1)" text-anchor="middle">2.0</text>
<text class="t" transform="translate(50.0 66.3) rotate(-90) scale(1.030 1)" text-anchor="middle">2.5</text>
<text class="t" transform="translate(50.0 32.7) rotate(-90) scale(1.030 1)" text-anchor="middle">3.0</text>
<text class="t" transform="translate(92.0 314.5) scale(1.030 1)" text-anchor="middle">0.0</text>
<text class="t" transform="translate(173.5 314.5) scale(1.030 1)" text-anchor="middle">0.5</text>
<text class="t" transform="translate(254.7 314.5) scale(1.030 1)" text-anchor="middle">1.0</text>
<text class="t" transform="translate(335.5 314.5) scale(1.030 1)" text-anchor="middle">1.5</text>
<text class="t" transform="translate(416.2 314.5) scale(1.030 1)" text-anchor="middle">2.0</text>
<text class="t" transform="translate(496.6 314.5) scale(1.030 1)" text-anchor="middle">2.5</text>
<text class="t" transform="translate(577.6 314.5) scale(1.030 1)" text-anchor="middle">3.0</text>
<text class="t" transform="translate(657.8 314.5) scale(1.030 1)" text-anchor="middle">3.5</text>
<text class="t" transform="translate(375.2 348.7) scale(1.030 1)" text-anchor="middle">Observed abundance</text>
<text class="t" transform="translate(15.3 152.7) rotate(-90) scale(1.030 1)" text-anchor="middle">Predicted abundance</text>
<text class="h" y="17.4"><tspan x="244.6">y = 0.4 + 0.56x,</tspan><tspan x="344.0">NRMSE</tspan><tspan x="398.6">=</tspan><tspan x="410.3">0.69,</tspan><tspan x="445.9">R</tspan><tspan x="457.3" dy="-8.8" font-size="10.4">2</tspan><tspan x="465.0" dy="8.8">=</tspan><tspan x="475.5">0.52</tspan></text>
<text class="p" x="70.6" y="12.8">a</text>
<rect x="71.2" y="405.9" width="609.8" height="259.1" fill="none" stroke="#222" stroke-width="1.6"/>
<path d="M61.1 655.7H71.2M61.1 620.8H71.2M61.1 586.2H71.2M61.1 552.8H71.2M61.1 518.2H71.2M61.1 483.4H71.2M61.1 448.8H71.2M61.1 415.2H71.2M92.5 665.0V674.2M174.0 665.0V674.2M255.2 665.0V674.2M336.0 665.0V674.2M416.7 665.0V674.2M497.1 665.0V674.2M578.1 665.0V674.2M658.3 665.0V674.2" stroke="#222" stroke-width="1.6" fill="none"/>
<clipPath id="cb"><rect x="71.2" y="405.9" width="609.8" height="259.1"/></clipPath>
<g clip-path="url(#cb)">
<path d="M430.0 299.8h0M433.1 303.0h0M434.1 303.9h0M435.1 304.9h0M438.9 308.8h0M439.9 309.7h0M440.9 310.7h0M441.9 311.7h0M442.8 312.7h0M443.8 313.6h0M444.8 314.6h0M448.1 318.0h0M449.0 318.9h0M450.0 319.8h0M450.9 320.7h0M451.8 321.6h0M452.7 322.5h0M453.6 323.4h0M454.5 324.4h0M455.5 325.3h0M456.4 326.2h0M457.3 327.1h0M458.2 328.0h0M459.1 328.9h0M460.0 329.9h0M461.0 330.8h0M461.9 331.7h0M462.8 332.6h0M463.7 333.5h0M464.6 334.4h0M465.5 335.4h0M466.5 336.3h0M467.4 337.2h0M468.3 338.1h0M469.2 339.0h0M470.1 339.9h0M471.0 340.9h0M472.0 341.8h0M472.9 342.7h0M473.8 343.6h0M474.7 344.5h0M475.6 345.4h0M476.5 346.4h0M477.5 347.3h0M478.4 348.2h0M479.3 349.1h0M480.2 350.0h0M481.1 350.9h0M482.0 351.9h0M483.0 352.8h0M483.9 353.7h0M484.8 354.6h0M485.7 355.5h0M486.6 356.4h0M487.5 357.4h0M488.5 358.3h0M489.4 359.2h0M490.3 360.1h0M491.2 361.0h0M492.1 361.9h0M493.0 362.9h0M494.0 363.8h0M494.9 364.7h0M495.8 365.6h0M496.7 366.5h0M497.6 367.4h0M498.5 368.4h0M499.5 369.3h0M500.4 370.2h0M501.3 371.1h0M502.2 372.0h0M503.1 372.9h0M504.0 373.9h0M505.0 374.8h0M505.9 375.7h0M506.8 376.6h0M507.7 377.5h0M508.6 378.4h0M509.5 379.4h0M510.4 380.3h0M511.4 381.2h0M512.3 382.1h0M513.2 383.0h0M514.1 383.9h0M515.0 384.9h0M515.9 385.8h0M516.9 386.7h0M517.8 387.6h0M518.7 388.5h0M520.8 390.6h0M473.4 273.9h0M474.4 274.8h0M475.3 275.8h0M476.3 276.8h0M477.3 277.7h0M478.3 278.7h0M479.2 279.7h0M480.2 280.7h0M484.0 284.5h0M487.8 288.3h0M492.6 293.1h0M493.6 294.0h0M494.5 294.9h0M495.4 295.8h0M496.3 296.8h0M497.2 297.7h0M498.1 298.6h0M499.0 299.5h0M500.0 300.4h0M500.9 301.3h0M501.8 302.2h0M502.7 303.2h0M503.6 304.1h0M504.5 305.0h0M505.4 305.9h0M506.4 306.8h0M507.3 307.7h0M508.2 308.6h0M509.1 309.6h0M510.0 310.5h0M510.9 311.4h0M511.8 312.3h0M512.8 313.2h0M513.7 314.1h0M514.6 315.0h0M515.5 316.0h0M516.4 316.9h0M517.3 317.8h0M518.2 318.7h0M519.2 319.6h0M520.1 320.5h0M521.0 321.4h0M521.9 322.4h0M522.8 323.3h0M523.7 324.2h0M524.6 325.1h0M525.6 326.0h0M526.5 326.9h0M527.4 327.8h0M528.3 328.8h0M529.2 329.7h0M530.1 330.6h0M531.1 331.5h0M532.0 332.4h0M532.9 333.3h0M533.8 334.2h0M534.7 335.2h0M535.6 336.1h0M536.5 337.0h0M537.5 337.9h0M538.4 338.8h0M539.3 339.7h0M540.2 340.7h0M541.1 341.6h0M542.0 342.5h0M542.9 343.4h0M543.9 344.3h0M544.8 345.2h0M545.7 346.1h0M546.6 347.1h0M547.5 348.0h0M500.6 260.7h0M502.3 262.4h0M503.9 264.1h0M505.6 265.8h0M507.3 267.5h0M509.0 269.2h0M510.7 270.9h0M512.4 272.5h0M514.1 274.2h0M515.8 275.9h0M517.5 277.6h0M524.7 284.9h0M526.4 286.6h0M528.1 288.2h0M529.8 289.9h0M531.4 291.6h0M533.1 293.3h0M534.8 294.9h0M536.4 296.6h0M538.1 298.3h0M539.8 299.9h0M541.5 301.6h0M543.1 303.3h0M544.8 305.0h0M546.5 306.6h0M548.2 308.3h0M549.8 310.0h0M551.5 311.6h0M553.2 313.3h0M540.5 272.1h0M542.2 273.7h0M543.8 275.4h0M545.5 277.0h0M547.1 278.7h0M548.8 280.4h0M550.4 282.0h0M552.1 283.7h0M553.7 285.3h0M555.4 287.0h0M557.0 288.6h0M558.7 290.3h0M560.3 291.9h0M562.0 293.6h0M563.6 295.2h0M565.3 296.9h0M566.9 298.5h0M568.6 300.2h0M509.1 218.6h0M510.4 219.9h0M511.7 221.3h0M515.6 225.1h0M517.4 226.9h0M519.1 228.6h0M520.9 230.4h0M522.6 232.1h0M524.4 233.9h0M526.1 235.6h0M527.8 237.4h0M529.6 239.1h0M531.3 240.9h0M533.1 242.6h0M540.9 250.4h0M542.5 252.1h0M544.2 253.7h0M545.9 255.4h0M547.5 257.1h0M549.2 258.7h0M550.9 260.4h0M552.5 262.1h0M557.3 266.9h0M559.0 268.5h0M560.6 270.2h0M562.3 271.8h0M563.9 273.5h0M565.6 275.1h0M567.2 276.8h0M522.6 213.8h0M526.7 217.9h0M528.5 219.6h0M530.2 221.3h0M531.9 223.1h0M533.7 224.8h0M535.4 226.5h0M537.1 228.3h0M551.4 242.5h0M553.2 244.3h0M555.0 246.1h0M556.7 247.9h0M558.5 249.7h0M560.3 251.4h0M564.1 255.2h0M565.9 257.0h0M567.7 258.9h0M552.0 227.7h0M553.7 229.4h0M555.3 231.1h0M557.0 232.8h0M558.7 234.4h0M560.4 236.1h0M562.1 237.8h0M563.8 239.5h0M565.5 241.2h0M567.2 242.9h0M568.8 244.6h0M570.5 246.2h0M572.2 247.9h0M573.9 249.6h0M575.6 251.3h0M577.3 253.0h0M579.0 254.7h0M580.7 256.4h0M582.3 258.1h0M584.0 259.7h0M585.7 261.4h0M587.4 263.1h0M589.1 264.8h0M597.5 273.2h0M563.6 227.7h0M565.3 229.4h0M566.9 231.1h0M568.6 232.8h0M570.3 234.4h0M572.0 236.1h0M573.7 237.8h0M575.4 239.5h0M577.1 241.2h0M578.8 242.9h0M580.4 244.6h0M582.1 246.3h0M583.8 247.9h0M585.5 249.6h0M587.2 251.3h0M588.9 253.0h0M590.6 254.7h0M535.8 188.2h0M537.4 189.8h0M539.1 191.4h0M540.7 193.1h0M542.3 194.7h0M544.0 196.4h0M545.6 198.0h0M547.3 199.6h0M548.9 201.3h0M550.5 202.9h0M552.2 204.6h0M553.8 206.2h0M555.5 207.8h0M557.1 209.5h0M558.7 211.1h0M560.4 212.8h0M585.9 238.3h0M587.5 239.9h0M589.0 241.4h0M590.6 243.0h0M592.1 244.5h0M593.7 246.1h0M595.2 247.6h0M522.8 163.5h0M524.5 165.2h0M526.2 166.8h0M527.9 168.5h0M529.6 170.2h0M531.2 171.9h0M544.8 185.5h0M546.6 187.2h0M548.4 189.0h0M550.1 190.8h0M551.9 192.5h0M553.7 194.3h0M555.4 196.1h0M557.2 197.8h0M557.6 189.7h0M562.7 194.9h0M564.4 196.5h0M566.0 198.2h0M567.7 199.9h0M569.4 201.5h0M571.0 203.2h0M572.7 204.9h0M574.4 206.5h0M576.0 208.2h0M577.7 209.9h0M579.4 211.5h0M581.0 213.2h0M582.7 214.9h0M584.4 216.5h0M586.0 218.2h0M587.7 219.9h0M589.4 221.5h0M591.0 223.2h0M592.7 224.9h0M594.4 226.5h0M596.0 228.2h0M599.1 231.3h0M602.2 234.3h0M608.4 240.6h0M541.9 165.2h0M548.4 171.6h0M550.1 173.3h0M551.8 175.0h0M553.5 176.7h0M555.2 178.5h0M556.9 180.2h0M558.6 181.9h0M560.3 183.6h0M562.0 185.3h0M563.8 187.0h0M565.5 188.7h0M567.2 190.4h0M571.1 194.3h0M572.7 196.0h0M574.4 197.6h0M576.1 199.3h0M577.7 201.0h0M579.4 202.6h0M581.1 204.3h0M582.7 206.0h0M584.4 207.6h0M586.1 209.3h0M587.7 211.0h0M589.4 212.6h0M591.1 214.3h0M592.7 216.0h0M594.4 217.6h0M596.1 219.3h0M597.7 221.0h0M599.4 222.6h0M601.1 224.3h0M602.7 226.0h0M604.4 227.6h0M606.1 229.3h0M555.9 170.6h0M557.6 172.2h0M559.3 173.9h0M561.0 175.6h0M562.6 177.3h0M564.3 178.9h0M566.0 180.6h0M567.7 182.3h0M569.3 184.0h0M571.0 185.6h0M572.7 187.3h0M574.4 189.0h0M576.0 190.7h0M577.7 192.3h0M579.4 194.0h0M581.1 195.7h0M582.8 197.4h0M584.4 199.1h0M586.1 200.7h0M587.8 202.4h0M589.5 204.1h0M591.1 205.8h0M592.8 207.4h0M594.5 209.1h0M596.2 210.8h0M598.7 213.3h0M566.6 175.4h0M570.5 179.3h0M572.2 181.0h0M573.9 182.7h0M575.6 184.4h0M577.3 186.1h0M579.0 187.8h0M580.7 189.5h0M582.4 191.2h0M584.1 192.9h0M585.8 194.6h0M587.5 196.3h0M589.2 198.0h0M590.9 199.7h0M592.6 201.4h0M594.3 203.1h0M596.0 204.8h0M597.7 206.5h0M580.8 175.5h0M582.5 177.2h0M584.2 178.9h0M585.9 180.6h0M587.7 182.3h0M589.4 184.1h0M591.1 185.8h0M592.8 187.5h0M594.5 189.2h0M596.2 190.9h0M597.9 192.6h0M599.6 194.3h0M565.4 153.3h0M569.9 157.8h0M571.8 159.7h0M573.6 161.5h0M575.4 163.3h0M577.2 165.1h0M579.0 166.9h0M583.6 171.5h0M585.3 173.2h0M587.0 174.9h0M588.7 176.5h0M590.3 178.2h0M592.0 179.9h0M593.7 181.6h0M595.4 183.3h0M597.1 185.0h0M598.8 186.7h0M600.5 188.4h0M602.2 190.1h0M603.9 191.8h0M605.6 193.5h0M607.3 195.2h0M609.0 196.9h0M610.6 198.5h0M612.3 200.2h0M614.0 201.9h0M615.7 203.6h0M617.4 205.3h0M619.1 207.0h0M620.8 208.7h0M622.5 210.4h0M624.2 212.1h0M625.9 213.8h0M627.6 215.5h0M629.3 217.2h0M635.3 223.2h0M582.4 162.9h0M584.0 164.6h0M585.7 166.2h0M587.3 167.9h0M589.0 169.5h0M590.6 171.2h0M592.3 172.8h0M583.4 161.1h0M585.2 162.9h0M586.9 164.6h0M588.6 166.3h0M590.4 168.1h0M592.1 169.8h0M593.8 171.5h0M604.3 182.0h0M607.1 184.8h0M609.6 187.3h0M614.5 192.3h0M616.2 193.9h0M617.8 195.5h0M619.4 197.1h0M621.1 198.8h0M634.3 212.1h0M578.8 151.5h0M583.4 156.1h0M585.0 157.8h0M586.6 159.4h0M588.3 161.1h0M589.9 162.7h0M591.6 164.3h0M593.2 166.0h0M594.8 167.6h0M596.5 169.3h0M598.1 170.9h0M599.8 172.5h0M601.4 174.2h0M603.0 175.8h0M604.7 177.5h0M606.3 179.1h0M608.0 180.7h0M584.4 143.4h0M588.9 147.9h0M590.6 149.6h0M592.3 151.3h0M594.0 153.1h0M595.7 154.8h0M597.4 156.5h0M599.1 158.2h0M600.8 159.9h0M602.6 161.6h0M604.3 163.3h0M606.0 165.0h0M607.7 166.7h0M609.4 168.4h0M611.1 170.2h0M612.8 171.9h0M614.5 173.6h0M616.2 175.3h0M617.9 177.0h0M619.7 178.7h0M621.4 180.4h0M623.1 182.1h0M624.8 183.8h0M626.5 185.5h0M630.4 189.4h0M632.2 191.2h0M634.0 193.0h0M635.7 194.8h0M637.5 196.6h0M639.3 198.4h0M641.1 200.2h0M642.9 201.9h0M596.0 150.0h0M597.8 151.7h0M599.5 153.5h0M601.3 155.2h0M603.0 157.0h0M604.8 158.7h0M606.5 160.5h0M608.2 162.2h0M610.0 163.9h0M611.7 165.7h0M613.5 167.4h0M621.1 175.1h0M622.7 176.7h0M624.3 178.3h0M625.9 179.9h0M627.5 181.4h0M570.0 112.4h0M577.8 120.1h0M579.5 121.8h0M581.1 123.5h0M582.8 125.2h0M584.5 126.9h0M586.2 128.6h0M587.9 130.3h0M589.6 131.9h0M591.3 133.6h0M593.0 135.3h0M594.6 137.0h0M596.3 138.7h0M598.0 140.4h0M599.7 142.1h0M601.4 143.7h0M603.1 145.4h0M604.8 147.1h0M606.4 148.8h0M608.1 150.5h0M609.8 152.2h0M611.5 153.9h0M582.4 119.5h0M584.1 121.2h0M585.8 122.9h0M587.5 124.6h0M589.2 126.3h0M590.9 128.0h0M592.6 129.7h0M594.3 131.4h0M595.9 133.1h0M597.6 134.8h0M599.3 136.5h0M601.0 138.2h0M602.7 139.9h0M604.4 141.6h0M606.1 143.3h0M607.8 145.0h0M609.5 146.7h0M611.2 148.4h0M612.9 150.0h0M614.6 151.7h0M616.3 153.4h0M618.0 155.1h0M621.3 158.4h0M616.1 147.6h0M617.9 149.3h0M619.6 151.1h0M621.4 152.8h0M623.1 154.6h0M624.9 156.3h0M603.7 133.1h0M605.5 134.8h0M607.2 136.5h0M608.9 138.3h0M610.6 140.0h0M612.4 141.7h0M614.1 143.4h0M615.8 145.2h0M617.6 146.9h0M619.3 148.6h0M584.8 106.8h0M586.5 108.5h0M588.2 110.2h0M589.9 111.9h0M591.6 113.6h0M593.3 115.3h0M595.0 117.0h0M596.7 118.7h0M598.4 120.3h0M595.9 108.4h0M599.2 111.7h0M600.9 113.4h0M602.5 115.0h0M604.2 116.7h0M605.8 118.3h0M607.5 120.0h0M609.1 121.6h0M610.8 123.3h0M612.4 124.9h0M614.1 126.6h0M615.7 128.2h0M617.4 129.9h0M624.5 137.0h0M626.2 138.7h0M627.9 140.4h0M629.6 142.1h0M631.3 143.9h0M633.0 145.6h0M634.7 147.3h0M636.4 149.0h0M638.1 150.7h0M639.8 152.4h0M641.6 154.1h0M643.3 155.8h0M646.9 159.5h0M601.0 107.4h0M602.7 109.2h0M604.5 110.9h0M606.3 112.7h0M608.0 114.5h0M609.8 116.2h0M611.6 118.0h0M613.3 119.8h0M615.1 121.6h0M616.9 123.3h0M618.6 125.1h0M620.4 126.9h0M603.7 102.0h0M605.5 103.7h0M607.2 105.4h0M608.9 107.2h0M610.7 108.9h0M612.4 110.6h0M614.1 112.4h0M615.9 114.1h0M617.6 115.8h0M619.3 117.6h0M621.1 119.3h0M622.8 121.0h0M624.5 122.8h0M627.8 126.0h0M629.5 127.7h0M631.2 129.4h0M632.9 131.1h0M634.6 132.8h0M636.3 134.5h0M638.0 136.2h0M639.6 137.9h0M641.3 139.6h0M643.0 141.3h0M644.7 143.0h0M646.4 144.7h0M607.7 95.5h0M609.3 97.1h0M611.0 98.8h0M612.7 100.4h0M614.3 102.1h0M616.0 103.8h0M617.6 105.4h0M619.3 107.1h0M621.0 108.7h0M622.6 110.4h0M624.3 112.1h0M625.9 113.7h0M627.6 115.4h0M629.3 117.0h0M630.9 118.7h0M632.6 120.4h0M634.2 122.0h0M635.9 123.7h0M637.6 125.3h0M639.2 127.0h0M623.9 102.6h0M625.7 104.4h0M627.5 106.2h0M629.2 108.0h0M631.0 109.7h0M632.8 111.5h0M634.6 113.3h0M636.4 115.1h0M638.2 116.9h0M623.5 87.5h0M625.2 89.2h0M627.0 91.0h0M628.8 92.8h0M630.5 94.5h0M632.3 96.3h0M634.1 98.1h0M635.8 99.8h0M637.6 101.6h0M639.4 103.4h0M641.1 105.1h0M642.9 106.9h0M600.9 52.9h0M602.9 54.8h0M604.8 56.8h0M606.8 58.8h0M613.9 65.9h0M615.5 67.5h0M617.1 69.1h0M618.7 70.7h0M620.3 72.3h0M615.4 61.7h0M617.1 63.4h0M618.7 65.1h0M620.4 66.8h0M622.1 68.4h0M623.8 70.1h0M625.5 71.8h0M627.1 73.5h0M628.8 75.1h0M630.5 76.8h0M632.2 78.5h0M633.8 80.2h0M635.5 81.8h0M637.2 83.5h0M638.9 85.2h0M640.5 86.9h0M642.2 88.6h0M643.9 90.2h0M645.6 91.9h0M647.2 93.6h0M648.9 95.3h0M650.6 96.9h0M652.3 98.6h0M654.0 100.3h0M655.6 102.0h0M641.9 82.2h0M643.7 83.9h0M645.4 85.7h0M647.2 87.5h0M649.0 89.2h0M650.8 91.0h0M652.5 92.8h0M654.3 94.5h0M656.1 96.3h0M642.1 76.7h0M643.8 78.4h0M645.5 80.1h0M647.2 81.8h0M648.9 83.5h0M650.6 85.2h0M652.3 86.9h0M654.0 88.6h0M655.7 90.3h0M657.4 92.0h0M659.1 93.7h0M660.8 95.4h0M662.5 97.1h0M664.2 98.8h0M665.9 100.5h0M667.6 102.2h0M669.3 103.9h0M671.0 105.6h0M672.7 107.3h0M646.9 77.2h0M648.5 78.8h0M650.1 80.5h0M651.7 82.1h0M653.4 83.7h0M655.0 85.3h0M656.6 87.0h0M658.2 88.6h0M659.9 90.2h0M661.5 91.9h0M663.1 93.5h0M636.8 62.4h0M638.5 64.1h0M640.3 65.8h0M642.0 67.5h0M643.7 69.2h0M645.4 71.0h0M647.1 72.7h0M648.8 74.4h0M650.6 76.1h0M652.3 77.8h0M654.0 79.5h0M655.7 81.3h0M657.4 83.0h0M659.2 84.7h0M660.9 86.4h0M662.6 88.1h0M664.3 89.9h0M666.0 91.6h0M632.9 52.0h0M636.8 55.9h0M638.5 57.6h0M640.2 59.3h0M641.9 61.0h0M643.6 62.7h0M645.3 64.4h0M647.1 66.1h0M648.8 67.8h0M650.5 69.5h0M652.2 71.2h0M653.9 72.9h0M655.6 74.6h0M657.3 76.3h0M659.0 78.0h0M660.7 79.7h0M662.4 81.4h0M664.1 83.2h0M640.4 33.7h0M645.6 38.9h0M647.4 40.7h0M649.2 42.5h0M651.1 44.4h0M652.9 46.2h0M654.7 48.0h0M667.7 61.0h0M669.4 62.7h0M671.1 64.4h0M672.8 66.1h0M674.6 67.9h0M676.3 69.6h0M678.0 71.3h0M679.7 73.1h0M681.5 74.8h0M683.2 76.5h0M687.1 80.4h0M650.5 17.0h0M652.1 18.7h0M653.8 20.4h0M657.7 24.3h0M659.3 25.9h0M660.9 27.5h0M662.6 29.1h0M664.2 30.8h0M677.5 31.6h0M679.5 33.6h0M681.4 35.6h0M686.6 40.7h0M688.5 42.7h0M690.5 44.6h0M692.4 46.5h0M667.8 10.2h0M671.8 14.1h0M675.6 18.0h0M679.5 21.9h0M681.1 23.5h0M682.7 25.1h0M684.3 26.7h0M685.9 28.3h0M689.9 32.2h0M694.9 31.1h0M696.5 32.7h0M698.1 34.2h0M699.6 35.8h0M701.2 37.3h0M702.7 38.9h0M706.3 42.5h0M677.5 -6.0h0M679.2 -4.3h0M680.8 -2.7h0M682.5 -1.0h0M684.2 0.7h0M685.9 2.4h0M687.5 4.1h0M689.2 5.7h0" stroke="#000" stroke-width="3.8" stroke-linecap="square" fill="none" transform="rotate(45)"/>
<path d="M92.0 516.1h0M92.0 520.5h0M92.0 521.9h0M92.0 523.3h0M92.0 528.7h0M92.0 530.1h0M92.0 531.5h0M92.0 532.9h0M92.0 534.2h0M92.0 535.6h0M92.0 537.0h0M92.0 541.7h0M92.0 543.0h0M92.0 544.3h0M92.0 545.6h0M92.0 546.9h0M92.0 548.2h0M92.0 549.5h0M92.0 550.8h0M92.0 552.1h0M92.0 553.4h0M92.0 554.7h0M92.0 556.0h0M92.0 557.3h0M92.0 558.5h0M92.0 559.8h0M92.0 561.1h0M92.0 562.4h0M92.0 563.7h0M92.0 565.0h0M92.0 566.3h0M92.0 567.6h0M92.0 568.9h0M92.0 570.2h0M92.0 571.5h0M92.0 572.8h0M92.0 574.1h0M92.0 575.4h0M92.0 576.7h0M92.0 578.0h0M92.0 579.3h0M92.0 580.6h0M92.0 581.9h0M92.0 583.2h0M92.0 584.5h0M92.0 585.8h0M92.0 587.1h0M92.0 588.4h0M92.0 589.7h0M92.0 591.0h0M92.0 592.2h0M92.0 593.5h0M92.0 594.8h0M92.0 596.1h0M92.0 597.4h0M92.0 598.7h0M92.0 600.0h0M92.0 601.3h0M92.0 602.6h0M92.0 603.9h0M92.0 605.2h0M92.0 606.5h0M92.0 607.8h0M92.0 609.1h0M92.0 610.4h0M92.0 611.7h0M92.0 613.0h0M92.0 614.3h0M92.0 615.6h0M92.0 616.9h0M92.0 618.2h0M92.0 619.5h0M92.0 620.8h0M92.0 622.1h0M92.0 623.4h0M92.0 624.7h0M92.0 625.9h0M92.0 627.2h0M92.0 628.5h0M92.0 629.8h0M92.0 631.1h0M92.0 632.4h0M92.0 633.7h0M92.0 635.0h0M92.0 636.3h0M92.0 637.6h0M92.0 638.9h0M92.0 640.2h0M92.0 641.5h0M92.0 644.5h0M141.1 528.4h0M141.1 529.8h0M141.1 531.1h0M141.1 532.5h0M141.1 533.9h0M141.1 535.3h0M141.1 536.6h0M141.1 538.0h0M141.1 543.4h0M141.1 548.8h0M141.1 555.6h0M141.1 556.9h0M141.1 558.2h0M141.1 559.5h0M141.1 560.8h0M141.1 562.1h0M141.1 563.4h0M141.1 564.7h0M141.1 565.9h0M141.1 567.2h0M141.1 568.5h0M141.1 569.8h0M141.1 571.1h0M141.1 572.4h0M141.1 573.7h0M141.1 575.0h0M141.1 576.3h0M141.1 577.6h0M141.1 578.9h0M141.1 580.2h0M141.1 581.5h0M141.1 582.8h0M141.1 584.1h0M141.1 585.3h0M141.1 586.6h0M141.1 587.9h0M141.1 589.2h0M141.1 590.5h0M141.1 591.8h0M141.1 593.1h0M141.1 594.4h0M141.1 595.7h0M141.1 597.0h0M141.1 598.3h0M141.1 599.6h0M141.1 600.9h0M141.1 602.2h0M141.1 603.5h0M141.1 604.7h0M141.1 606.0h0M141.1 607.3h0M141.1 608.6h0M141.1 609.9h0M141.1 611.2h0M141.1 612.5h0M141.1 613.8h0M141.1 615.1h0M141.1 616.4h0M141.1 617.7h0M141.1 619.0h0M141.1 620.3h0M141.1 621.6h0M141.1 622.9h0M141.1 624.1h0M141.1 625.4h0M141.1 626.7h0M141.1 628.0h0M141.1 629.3h0M141.1 630.6h0M141.1 631.9h0M141.1 633.2h0M169.6 538.3h0M169.6 540.7h0M169.6 543.1h0M169.6 545.5h0M169.6 547.9h0M169.6 550.2h0M169.6 552.6h0M169.6 555.0h0M169.6 557.4h0M169.6 559.8h0M169.6 562.2h0M169.6 572.5h0M169.6 574.9h0M169.6 577.2h0M169.6 579.6h0M169.6 582.0h0M169.6 584.3h0M169.6 586.7h0M169.6 589.1h0M169.6 591.4h0M169.6 593.8h0M169.6 596.1h0M169.6 598.5h0M169.6 600.9h0M169.6 603.2h0M169.6 605.6h0M169.6 608.0h0M169.6 610.3h0M169.6 612.7h0M189.8 574.6h0M189.8 576.9h0M189.8 579.3h0M189.8 581.6h0M189.8 583.9h0M189.8 586.3h0M189.8 588.6h0M189.8 590.9h0M189.8 593.3h0M189.8 595.6h0M189.8 598.0h0M189.8 600.3h0M189.8 602.6h0M189.8 605.0h0M189.8 607.3h0M189.8 609.6h0M189.8 612.0h0M189.8 614.3h0M205.4 514.6h0M205.4 516.5h0M205.4 518.3h0M205.4 523.8h0M205.4 526.3h0M205.4 528.7h0M205.4 531.2h0M205.4 533.7h0M205.4 536.1h0M205.4 538.6h0M205.4 541.1h0M205.4 543.6h0M205.4 546.0h0M205.4 548.5h0M205.4 559.5h0M205.4 561.9h0M205.4 564.2h0M205.4 566.6h0M205.4 568.9h0M205.4 571.3h0M205.4 573.6h0M205.4 576.0h0M205.4 582.8h0M205.4 585.1h0M205.4 587.5h0M205.4 589.8h0M205.4 592.1h0M205.4 594.5h0M205.4 596.8h0M218.4 520.7h0M218.4 526.5h0M218.4 529.0h0M218.4 531.4h0M218.4 533.9h0M218.4 536.3h0M218.4 538.8h0M218.4 541.2h0M218.4 561.4h0M218.4 563.9h0M218.4 566.4h0M218.4 569.0h0M218.4 571.5h0M218.4 574.0h0M218.4 579.3h0M218.4 581.9h0M218.4 584.5h0M229.3 551.3h0M229.3 553.7h0M229.3 556.1h0M229.3 558.5h0M229.3 560.8h0M229.3 563.2h0M229.3 565.6h0M229.3 568.0h0M229.3 570.4h0M229.3 572.8h0M229.3 575.2h0M229.3 577.5h0M229.3 579.9h0M229.3 582.3h0M229.3 584.7h0M229.3 587.1h0M229.3 589.5h0M229.3 591.9h0M229.3 594.3h0M229.3 596.6h0M229.3 599.0h0M229.3 601.4h0M229.3 603.8h0M229.3 615.7h0M237.5 559.5h0M237.5 561.9h0M237.5 564.3h0M237.5 566.7h0M237.5 569.0h0M237.5 571.4h0M237.5 573.8h0M237.5 576.2h0M237.5 578.6h0M237.5 581.0h0M237.5 583.4h0M237.5 585.8h0M237.5 588.2h0M237.5 590.5h0M237.5 592.9h0M237.5 595.3h0M237.5 597.7h0M245.8 511.9h0M245.8 514.2h0M245.8 516.5h0M245.8 518.9h0M245.8 521.2h0M245.8 523.5h0M245.8 525.8h0M245.8 528.1h0M245.8 530.5h0M245.8 532.8h0M245.8 535.1h0M245.8 537.4h0M245.8 539.7h0M245.8 542.1h0M245.8 544.4h0M245.8 546.7h0M245.8 582.8h0M245.8 585.0h0M245.8 587.2h0M245.8 589.4h0M245.8 591.6h0M245.8 593.8h0M245.8 596.0h0M254.1 485.3h0M254.1 487.7h0M254.1 490.1h0M254.1 492.4h0M254.1 494.8h0M254.1 497.2h0M254.1 516.4h0M254.1 518.9h0M254.1 521.4h0M254.1 523.9h0M254.1 526.4h0M254.1 528.9h0M254.1 531.4h0M254.1 533.9h0M260.1 528.4h0M260.1 535.7h0M260.1 538.1h0M260.1 540.4h0M260.1 542.8h0M260.1 545.1h0M260.1 547.5h0M260.1 549.8h0M260.1 552.2h0M260.1 554.5h0M260.1 556.9h0M260.1 559.2h0M260.1 561.6h0M260.1 564.0h0M260.1 566.3h0M260.1 568.7h0M260.1 571.0h0M260.1 573.4h0M260.1 575.7h0M260.1 578.1h0M260.1 580.4h0M260.1 582.8h0M260.1 587.2h0M260.1 591.5h0M260.1 600.3h0M266.4 500.0h0M266.4 509.1h0M266.4 511.5h0M266.4 513.9h0M266.4 516.4h0M266.4 518.8h0M266.4 521.2h0M266.4 523.6h0M266.4 526.0h0M266.4 528.4h0M266.4 530.9h0M266.4 533.3h0M266.4 535.7h0M266.4 541.2h0M266.4 543.6h0M266.4 545.9h0M266.4 548.3h0M266.4 550.6h0M266.4 553.0h0M266.4 555.3h0M266.4 557.7h0M266.4 560.1h0M266.4 562.4h0M266.4 564.8h0M266.4 567.1h0M266.4 569.5h0M266.4 571.8h0M266.4 574.2h0M266.4 576.6h0M266.4 578.9h0M266.4 581.3h0M266.4 583.6h0M266.4 586.0h0M266.4 588.3h0M266.4 590.7h0M272.5 513.7h0M272.5 516.1h0M272.5 518.4h0M272.5 520.8h0M272.5 523.2h0M272.5 525.6h0M272.5 527.9h0M272.5 530.3h0M272.5 532.7h0M272.5 535.0h0M272.5 537.4h0M272.5 539.8h0M272.5 542.2h0M272.5 544.5h0M272.5 546.9h0M272.5 549.3h0M272.5 551.6h0M272.5 554.0h0M272.5 556.4h0M272.5 558.7h0M272.5 561.1h0M272.5 563.5h0M272.5 565.9h0M272.5 568.2h0M272.5 570.6h0M272.5 574.2h0M276.6 524.7h0M276.6 530.2h0M276.6 532.6h0M276.6 535.0h0M276.6 537.4h0M276.6 539.8h0M276.6 542.2h0M276.6 544.6h0M276.6 547.0h0M276.6 549.5h0M276.6 551.9h0M276.6 554.3h0M276.6 556.7h0M276.6 559.1h0M276.6 561.5h0M276.6 563.9h0M276.6 566.3h0M276.6 568.7h0M286.6 534.8h0M286.6 537.2h0M286.6 539.6h0M286.6 542.1h0M286.6 544.5h0M286.6 546.9h0M286.6 549.3h0M286.6 551.7h0M286.6 554.1h0M286.6 556.6h0M286.6 559.0h0M286.6 561.4h0M291.4 508.2h0M291.4 514.6h0M291.4 517.2h0M291.4 519.8h0M291.4 522.3h0M291.4 524.9h0M291.4 527.5h0M291.4 533.9h0M291.4 536.3h0M291.4 538.7h0M291.4 541.1h0M291.4 543.5h0M291.4 545.9h0M291.4 548.3h0M291.4 550.6h0M291.4 553.0h0M291.4 555.4h0M291.4 557.8h0M291.4 560.2h0M291.4 562.6h0M291.4 565.0h0M291.4 567.4h0M291.4 569.8h0M291.4 572.2h0M291.4 574.6h0M291.4 577.0h0M291.4 579.4h0M291.4 581.8h0M291.4 584.1h0M291.4 586.5h0M291.4 588.9h0M291.4 591.3h0M291.4 593.7h0M291.4 596.1h0M291.4 598.5h0M291.4 607.0h0M296.6 527.0h0M296.6 529.3h0M296.6 531.7h0M296.6 534.0h0M296.6 536.3h0M296.6 538.7h0M296.6 541.0h0M298.6 526.5h0M298.6 529.0h0M298.6 531.4h0M298.6 533.9h0M298.6 536.3h0M298.6 538.8h0M298.6 541.2h0M298.6 556.0h0M298.6 560.0h0M298.6 563.5h0M298.6 570.5h0M298.6 572.8h0M298.6 575.1h0M298.6 577.4h0M298.6 579.7h0M298.6 598.5h0M302.1 516.4h0M302.1 522.9h0M302.1 525.2h0M302.1 527.5h0M302.1 529.9h0M302.1 532.2h0M302.1 534.5h0M302.1 536.8h0M302.1 539.1h0M302.1 541.5h0M302.1 543.8h0M302.1 546.1h0M302.1 548.4h0M302.1 550.7h0M302.1 553.1h0M302.1 555.4h0M302.1 557.7h0M311.8 514.6h0M311.8 521.0h0M311.8 523.4h0M311.8 525.8h0M311.8 528.3h0M311.8 530.7h0M311.8 533.1h0M311.8 535.5h0M311.8 537.9h0M311.8 540.3h0M311.8 542.8h0M311.8 545.2h0M311.8 547.6h0M311.8 550.0h0M311.8 552.4h0M311.8 554.9h0M311.8 557.3h0M311.8 559.7h0M311.8 562.1h0M311.8 564.5h0M311.8 566.9h0M311.8 569.4h0M311.8 571.8h0M311.8 574.2h0M311.8 579.7h0M311.8 582.2h0M311.8 584.8h0M311.8 587.3h0M311.8 589.8h0M311.8 592.3h0M311.8 594.9h0M311.8 597.4h0M315.4 527.5h0M315.4 530.0h0M315.4 532.4h0M315.4 534.9h0M315.4 537.4h0M315.4 539.9h0M315.4 542.3h0M315.4 544.8h0M315.4 547.3h0M315.4 549.7h0M315.4 552.2h0M315.4 563.0h0M315.4 565.2h0M315.4 567.5h0M315.4 569.8h0M315.4 572.0h0M323.6 482.5h0M323.6 493.5h0M323.6 495.9h0M323.6 498.3h0M323.6 500.7h0M323.6 503.0h0M323.6 505.4h0M323.6 507.8h0M323.6 510.2h0M323.6 512.6h0M323.6 515.0h0M323.6 517.4h0M323.6 519.7h0M323.6 522.1h0M323.6 524.5h0M323.6 526.9h0M323.6 529.3h0M323.6 531.7h0M323.6 534.0h0M323.6 536.4h0M323.6 538.8h0M323.6 541.2h0M327.3 496.3h0M327.3 498.7h0M327.3 501.1h0M327.3 503.5h0M327.3 505.9h0M327.3 508.3h0M327.3 510.7h0M327.3 513.1h0M327.3 515.5h0M327.3 517.9h0M327.3 520.3h0M327.3 522.7h0M327.3 525.1h0M327.3 527.5h0M327.3 529.9h0M327.3 532.3h0M327.3 534.7h0M327.3 537.1h0M327.3 539.5h0M327.3 541.9h0M327.3 544.3h0M327.3 546.7h0M327.3 551.3h0M331.3 540.0h0M331.3 542.5h0M331.3 545.0h0M331.3 547.4h0M331.3 549.9h0M331.3 552.4h0M332.8 521.0h0M332.8 523.4h0M332.8 525.9h0M332.8 528.3h0M332.8 530.8h0M332.8 533.2h0M332.8 535.7h0M332.8 538.1h0M332.8 540.6h0M332.8 543.0h0M338.0 489.0h0M338.0 491.4h0M338.0 493.8h0M338.0 496.2h0M338.0 498.6h0M338.0 501.0h0M338.0 503.4h0M338.0 505.8h0M338.0 508.2h0M344.7 498.0h0M344.7 502.7h0M344.7 505.0h0M344.7 507.4h0M344.7 509.7h0M344.7 512.0h0M344.7 514.4h0M344.7 516.7h0M344.7 519.1h0M344.7 521.4h0M344.7 523.7h0M344.7 526.1h0M344.7 528.4h0M344.7 538.5h0M344.7 540.9h0M344.7 543.3h0M344.7 545.7h0M344.7 548.1h0M344.7 550.5h0M344.7 553.0h0M344.7 555.4h0M344.7 557.8h0M344.7 560.2h0M344.7 562.6h0M344.7 565.0h0M344.7 570.2h0M349.0 500.9h0M349.0 503.4h0M349.0 505.9h0M349.0 508.4h0M349.0 510.9h0M349.0 513.4h0M349.0 515.9h0M349.0 518.4h0M349.0 520.9h0M349.0 523.4h0M349.0 525.9h0M349.0 528.4h0M354.8 499.0h0M354.8 501.4h0M354.8 503.9h0M354.8 506.4h0M354.8 508.8h0M354.8 511.2h0M354.8 513.7h0M354.8 516.1h0M354.8 518.6h0M354.8 521.0h0M354.8 523.5h0M354.8 525.9h0M354.8 528.4h0M354.8 533.0h0M354.8 535.4h0M354.8 537.8h0M354.8 540.2h0M354.8 542.6h0M354.8 545.0h0M354.8 547.4h0M354.8 549.8h0M354.8 552.2h0M354.8 554.6h0M354.8 557.0h0M354.8 559.4h0M362.2 497.2h0M362.2 499.5h0M362.2 501.9h0M362.2 504.2h0M362.2 506.6h0M362.2 508.9h0M362.2 511.3h0M362.2 513.6h0M362.2 516.0h0M362.2 518.3h0M362.2 520.7h0M362.2 523.0h0M362.2 525.4h0M362.2 527.7h0M362.2 530.1h0M362.2 532.4h0M362.2 534.8h0M362.2 537.1h0M362.2 539.5h0M362.2 541.8h0M368.6 513.7h0M368.6 516.2h0M368.6 518.8h0M368.6 521.3h0M368.6 523.8h0M368.6 526.3h0M368.6 528.9h0M368.6 531.4h0M368.6 533.9h0M379.0 502.7h0M379.0 505.2h0M379.0 507.7h0M379.0 510.2h0M379.0 512.7h0M379.0 515.2h0M379.0 517.7h0M379.0 520.2h0M379.0 522.7h0M379.0 525.2h0M379.0 527.7h0M379.0 530.2h0M387.5 462.3h0M387.5 465.1h0M387.5 467.8h0M387.5 470.6h0M387.5 480.7h0M387.5 483.0h0M387.5 485.2h0M387.5 487.5h0M387.5 489.8h0M391.5 478.8h0M391.5 481.2h0M391.5 483.5h0M391.5 485.9h0M391.5 488.3h0M391.5 490.7h0M391.5 493.0h0M391.5 495.4h0M391.5 497.8h0M391.5 500.1h0M391.5 502.5h0M391.5 504.9h0M391.5 507.2h0M391.5 509.6h0M391.5 512.0h0M391.5 514.4h0M391.5 516.7h0M391.5 519.1h0M391.5 521.5h0M391.5 523.8h0M391.5 526.2h0M391.5 528.6h0M391.5 531.0h0M391.5 533.3h0M391.5 535.7h0M395.8 512.0h0M395.8 514.5h0M395.8 517.0h0M395.8 519.5h0M395.8 522.0h0M395.8 524.5h0M395.8 527.0h0M395.8 529.5h0M395.8 532.0h0M399.8 508.2h0M399.8 510.6h0M399.8 513.0h0M399.8 515.4h0M399.8 517.8h0M399.8 520.2h0M399.8 522.6h0M399.8 525.0h0M399.8 527.4h0M399.8 529.9h0M399.8 532.3h0M399.8 534.7h0M399.8 537.1h0M399.8 539.5h0M399.8 541.9h0M399.8 544.3h0M399.8 546.7h0M399.8 549.1h0M399.8 551.5h0M402.8 512.0h0M402.8 514.3h0M402.8 516.6h0M402.8 518.9h0M402.8 521.2h0M402.8 523.5h0M402.8 525.8h0M402.8 528.1h0M402.8 530.4h0M402.8 532.7h0M402.8 535.0h0M406.2 494.4h0M406.2 496.8h0M406.2 499.3h0M406.2 501.7h0M406.2 504.1h0M406.2 506.5h0M406.2 509.0h0M406.2 511.4h0M406.2 513.8h0M406.2 516.3h0M406.2 518.7h0M406.2 521.1h0M406.2 523.6h0M406.2 526.0h0M406.2 528.4h0M406.2 530.8h0M406.2 533.3h0M406.2 535.7h0M410.8 484.3h0M410.8 489.8h0M410.8 492.2h0M410.8 494.6h0M410.8 497.0h0M410.8 499.4h0M410.8 501.9h0M410.8 504.3h0M410.8 506.7h0M410.8 509.1h0M410.8 511.5h0M410.8 513.9h0M410.8 516.3h0M410.8 518.8h0M410.8 521.2h0M410.8 523.6h0M410.8 526.0h0M410.8 528.4h0M429.0 476.7h0M429.0 484.0h0M429.0 486.6h0M429.0 489.2h0M429.0 491.7h0M429.0 494.3h0M429.0 496.9h0M429.0 515.2h0M429.0 517.6h0M429.0 520.1h0M429.0 522.5h0M429.0 525.0h0M429.0 527.4h0M429.0 529.9h0M429.0 532.3h0M429.0 534.8h0M429.0 537.2h0M429.0 542.7h0M447.9 472.0h0M447.9 474.4h0M447.9 476.7h0M447.9 482.2h0M447.9 484.5h0M447.9 486.8h0M447.9 489.1h0M447.9 491.4h0M456.7 501.4h0M456.7 504.2h0M456.7 507.0h0M456.7 514.3h0M456.7 517.0h0M456.7 519.8h0M456.7 522.5h0M465.0 479.4h0M465.0 485.0h0M465.0 490.4h0M465.0 496.0h0M465.0 498.2h0M465.0 500.5h0M465.0 502.8h0M465.0 505.0h0M465.0 510.6h0M469.4 513.4h0M469.4 515.6h0M469.4 517.8h0M469.4 520.0h0M469.4 522.2h0M469.4 524.4h0M469.4 529.5h0M483.3 474.8h0M483.3 477.2h0M483.3 479.5h0M483.3 481.9h0M483.3 484.3h0M483.3 486.7h0M483.3 489.0h0M483.3 491.4h0" stroke="#000" stroke-width="4.1" stroke-linecap="round" fill="none"/>
<line x1="92.05" y1="520.5" x2="92.05" y2="523.3" stroke="#000" stroke-width="4.7"/>
<line x1="92.05" y1="528.7" x2="92.05" y2="537.0" stroke="#000" stroke-width="4.7"/>
<line x1="92.05" y1="541.7" x2="92.05" y2="641.5" stroke="#000" stroke-width="4.7"/>
<line x1="92.3" y1="553.7" x2="92.3" y2="629.5" stroke="#000" stroke-width="5.0"/>
<line x1="60.0" y1="635.38" x2="620.0" y2="396.29" stroke="#000" stroke-width="1" shape-rendering="crispEdges"/>
<line x1="71.2" y1="599.2" x2="681.0" y2="446.8" stroke="#cc1238" stroke-width="1" shape-rendering="crispEdges"/>
</g>
<text class="t" transform="translate(50.0 655.7) rotate(-90) scale(1.030 1)" text-anchor="middle">-0.5</text>
<text class="t" transform="translate(50.0 586.2) rotate(-90) scale(1.030 1)" text-anchor="middle">0.5</text>
<text class="t" transform="translate(50.0 552.8) rotate(-90) scale(1.030 1)" text-anchor="middle">1.0</text>
<text class="t" transform="translate(50.0 518.2) rotate(-90) scale(1.030 1)" text-anchor="middle">1.5</text>
<text class="t" transform="translate(50.0 483.4) rotate(-90) scale(1.030 1)" text-anchor="middle">2.0</text>
<text class="t" transform="translate(50.0 448.8) rotate(-90) scale(1.030 1)" text-anchor="middle">2.5</text>
<text class="t" transform="translate(50.0 415.2) rotate(-90) scale(1.030 1)" text-anchor="middle">3.0</text>
<text class="t" transform="translate(92.0 697.0) scale(1.030 1)" text-anchor="middle">0.0</text>
<text class="t" transform="translate(173.5 697.0) scale(1.030 1)" text-anchor="middle">0.5</text>
<text class="t" transform="translate(254.7 697.0) scale(1.030 1)" text-anchor="middle">1.0</text>
<text class="t" transform="translate(335.5 697.0) scale(1.030 1)" text-anchor="middle">1.5</text>
<text class="t" transform="translate(416.2 697.0) scale(1.030 1)" text-anchor="middle">2.0</text>
<text class="t" transform="translate(496.6 697.0) scale(1.030 1)" text-anchor="middle">2.5</text>
<text class="t" transform="translate(577.6 697.0) scale(1.030 1)" text-anchor="middle">3.0</text>
<text class="t" transform="translate(657.8 697.0) scale(1.030 1)" text-anchor="middle">3.5</text>
<text class="t" transform="translate(375.2 731.2) scale(1.030 1)" text-anchor="middle">Observed abundance</text>
<text class="t" transform="translate(15.3 535.2) rotate(-90) scale(1.030 1)" text-anchor="middle">Predicted abundance</text>
<text class="h" y="399.9"><tspan x="241.2">y = 0.41 + 0.59x,</tspan><tspan x="349.6">NRMSE</tspan><tspan x="402.2">=</tspan><tspan x="416.0">0.65,</tspan><tspan x="450.9">R</tspan><tspan x="462.0" dy="-8.8" font-size="10.4">2</tspan><tspan x="468.6" dy="8.8">=</tspan><tspan x="480.8">0.58</tspan></text>
<text class="p" x="70.6" y="395.3">b</text>
</svg>
</body></html>
